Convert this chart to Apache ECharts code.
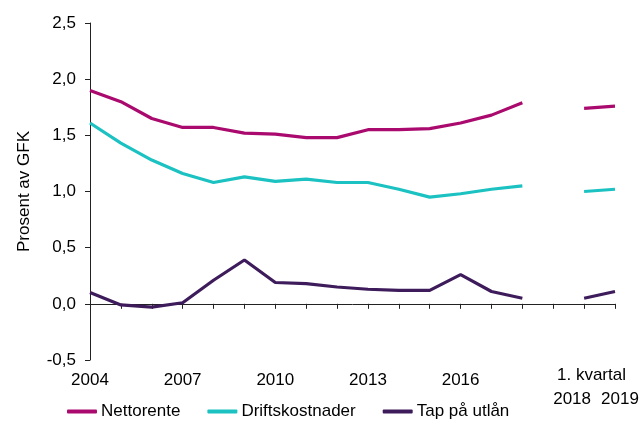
<!DOCTYPE html>
<html>
<head>
<meta charset="utf-8">
<script src="https://cdn.jsdelivr.net/npm/echarts@6/dist/echarts.min.js"></script>
<style>html,body{margin:0;padding:0;background:#fff}#c{width:642px;height:437px}</style>
</head>
<body>
<div id="c"></div>
<script>
const categories = ['2004','2005','2006','2007','2008','2009','2010','2011','2012','2013','2014','2015','2016','2017','2018','','2018','2019'];
const tickLabels = {0:'2004',3:'2007',6:'2010',9:'2013',12:'2016',16:'2018',17:'2019'};
const quarterLabel = '1. kvartal';
const nettorente = [1.90,1.80,1.65,1.57,1.57,1.52,1.51,1.48,1.48,1.55,1.55,1.56,1.61,1.68,1.79,null,1.74,1.76];
const driftskostnader = [1.61,1.43,1.28,1.16,1.08,1.13,1.09,1.11,1.08,1.08,1.02,0.95,0.98,1.02,1.05,null,1.00,1.02];
const tapPaUtlan = [0.10,-0.01,-0.03,0.01,0.21,0.39,0.19,0.18,0.15,0.13,0.12,0.12,0.26,0.11,0.05,null,0.05,0.11];
const seriesNames = ['Nettorente','Driftskostnader','Tap på utlån'];
const colors = ['#AA0A6E','#1CC2C2','#3E1C5C'];

const font = 'Arial, "Liberation Sans", sans-serif';
const fs = 17;
const chart = echarts.init(document.getElementById('c'));
const mkSeries = (name, data, i) => ({
  name, type:'line', data, xAxisIndex:0, symbol:'none', showSymbol:false,
  connectNulls:false, lineStyle:{width:3.2, color:colors[i]}, itemStyle:{color:colors[i]}
});
const catData = categories.map((c,i)=>{
  if (i===16) return {value:c, textStyle:{padding:[0,24,0,0]}};
  if (i===17) return {value:c, textStyle:{padding:[0,0,0,10]}};
  return c;
});
chart.setOption({
  animation:false,
  textStyle:{fontFamily:font},
  grid:{left:90, right:27, top:23, bottom:77},
  xAxis:[{
    type:'category', data:categories, boundaryGap:false,
    axisLine:{onZero:true, lineStyle:{color:'#222', width:1}},
    axisTick:{show:true, length:5, interval:0, lineStyle:{color:'#222'}},
    axisLabel:{show:false}
  },{
    type:'category', data:catData, boundaryGap:false, position:'bottom',
    axisLine:{show:false}, axisTick:{show:false},
    axisLabel:{
      interval:0, margin:11, fontSize:fs, color:'#000', fontFamily:font, lineHeight:19,
      formatter:(v,i)=> tickLabels[i]!==undefined ? (i>=16 ? '\n'+tickLabels[i] : tickLabels[i]) : ''
    }
  }],
  yAxis:{
    type:'value', min:-0.5, max:2.5, interval:0.5,
    name:'Prosent av GFK', nameLocation:'middle', nameRotate:90, nameGap:57,
    nameTextStyle:{fontSize:fs, color:'#000', fontFamily:font},
    axisLine:{show:true, lineStyle:{color:'#222'}},
    axisTick:{show:true, length:5, lineStyle:{color:'#222'}},
    splitLine:{show:false},
    axisLabel:{fontSize:fs, color:'#000', margin:14, fontFamily:font,
      formatter:v=>v.toFixed(1).replace('.',',')}
  },
  legend:{
    left:62, top:398, itemWidth:30, itemHeight:4, itemGap:27, icon:'roundRect',
    textStyle:{fontSize:fs, color:'#000', fontFamily:font, padding:[0,0,0,-1]},
    data:seriesNames
  },
  graphic:[{
    type:'text', left:557, top:367,
    style:{text:quarterLabel, fontSize:fs, fill:'#000', fontFamily:font}
  }],
  series:[
    mkSeries(seriesNames[0], nettorente, 0),
    mkSeries(seriesNames[1], driftskostnader, 1),
    mkSeries(seriesNames[2], tapPaUtlan, 2)
  ]
});
</script>
</body>
</html>
